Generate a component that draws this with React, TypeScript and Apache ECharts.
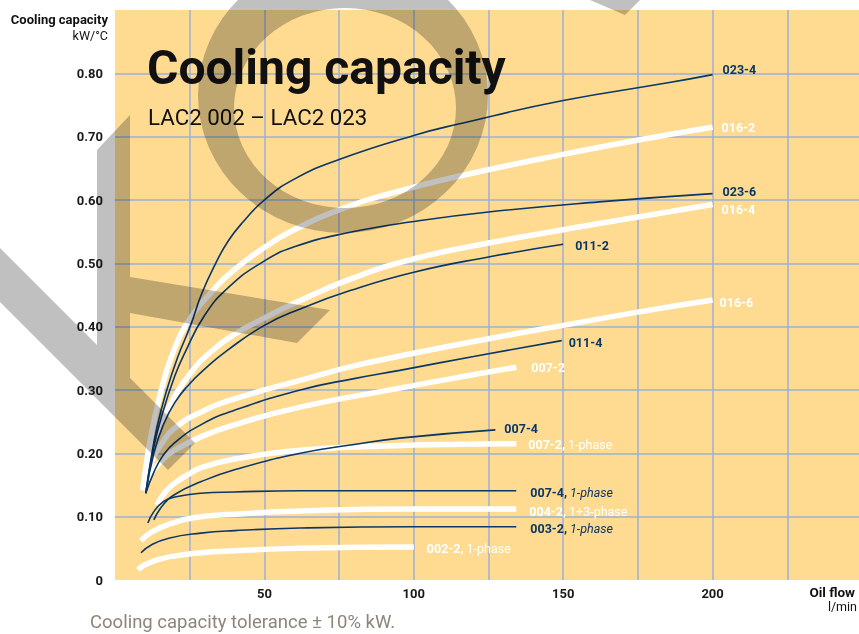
import React, { useEffect, useRef } from 'react';
import * as echarts from 'echarts';

// ---------- data (oil flow l/min, cooling capacity kW/°C) ----------
const xLabelValues = [50, 100, 150, 200];

const n023_4: [number, number][] = [[10.3,0.137],[12,0.19],[14,0.24],[17,0.295],[21,0.352],[25.3,0.402],[29,0.452],[33.7,0.5],[38,0.536],[43,0.566],[50,0.6],[60,0.633],[75,0.664],[100,0.702],[115,0.72],[150,0.757],[185,0.785],[200,0.798]];
const w016_2: [number, number][] = [[9.3,0.142],[11,0.2],[13,0.25],[15.5,0.3],[18.7,0.35],[24,0.405],[32,0.453],[40,0.49],[50,0.525],[58.7,0.55],[77,0.588],[95,0.614],[113.5,0.636],[150,0.672],[185,0.703],[200,0.715]];
const n023_6: [number, number][] = [[10.3,0.137],[13,0.21],[16,0.265],[20,0.322],[23,0.355],[30,0.418],[38,0.462],[48.7,0.5],[60,0.526],[78.7,0.549],[100,0.566],[125,0.581],[162,0.597],[200,0.61]];
const w016_4: [number, number][] = [[9.3,0.142],[12,0.2],[16,0.252],[20,0.29],[25,0.325],[32,0.36],[40,0.388],[49.7,0.413],[60,0.437],[78.7,0.475],[100,0.507],[125,0.532],[150,0.553],[162,0.563],[200,0.593]];
const n011_2: [number, number][] = [[10.3,0.137],[13,0.2],[16,0.243],[20,0.28],[25,0.31],[30,0.333],[37.7,0.363],[50,0.402],[62,0.428],[78.7,0.457],[100,0.486],[125,0.51],[150,0.53]];
const w016_6: [number, number][] = [[9.3,0.142],[12,0.185],[16,0.218],[20,0.24],[28.7,0.265],[40,0.286],[61,0.314],[80,0.338],[100,0.358],[125,0.381],[150,0.402],[175,0.423],[200,0.442]];
const n011_4: [number, number][] = [[10.3,0.137],[13,0.17],[16,0.196],[20,0.217],[28.7,0.245],[40,0.268],[62,0.3],[80,0.318],[95.3,0.331],[120,0.353],[149.5,0.378]];
const w007_2: [number, number][] = [[9.3,0.142],[12,0.168],[16,0.19],[20,0.205],[28.7,0.226],[40,0.245],[62,0.273],[95.3,0.303],[115,0.32],[134.3,0.336]];
const n007_4: [number, number][] = [[13,0.095],[16,0.118],[20,0.135],[28.7,0.155],[40,0.174],[62,0.2],[80,0.214],[95.3,0.224],[127.3,0.237]];
const w007_2_1ph: [number, number][] = [[14,0.118],[17,0.14],[20,0.153],[25,0.168],[28.7,0.177],[40,0.191],[62,0.205],[80,0.21],[100,0.213],[134.3,0.215]];
const n007_4_1ph: [number, number][] = [[11,0.09],[13,0.108],[16.3,0.124],[20,0.131],[28.7,0.137],[40,0.139],[62,0.141],[100,0.141],[134.3,0.141]];
const w004_2: [number, number][] = [[8.7,0.062],[12,0.075],[18,0.088],[28.7,0.1],[40,0.104],[62,0.109],[100,0.112],[134.3,0.112]];
const n003_2: [number, number][] = [[8.7,0.043],[12,0.055],[18,0.066],[28.7,0.074],[40,0.078],[62,0.082],[100,0.084],[134.3,0.084]];
const w002_2: [number, number][] = [[7.7,0.016],[10,0.024],[15,0.033],[20,0.038],[28.7,0.043],[40,0.046],[62,0.05],[100,0.052]];

// ---------- styling ----------
const NAVY = '#0a3767';
const WHITE = '#ffffff';
const FONT = 'Roboto, "Noto Sans", sans-serif';
const WM_FILL = '#c0c0c1';

const WM_PATH =
  'M198 95 A145 138 0 1 0 488 95 A145 138 0 1 0 198 95 Z ' +
  'M234 108 A111 100 0 1 1 456 108 A111 100 0 1 1 234 108 Z ' +
  'M97 150 L130 115 L130 277 L330 310 L297 343 L130 313 L130 378 L195 443 L168 470 L0 302 L0 248 L97 345 Z ' +
  'M590 0 L640 0 L625 15 Z';

let registered = false;
function ensureShape() {
  if (registered) return;
  echarts.graphic.registerShape('wmark', (echarts.graphic as any).extendPath(WM_PATH, {}));
  registered = true;
}

function mkSeries(
  name: string,
  data: [number, number][],
  navy: boolean,
  main: string,
  sub: string,
  dist: number,
  dy: number
) {
  const color = navy ? NAVY : WHITE;
  const fmt = sub ? `{b|${main},} {s|${sub}}` : `{b|${main}}`;
  return {
    type: 'line',
    name,
    data,
    symbol: 'none',
    showSymbol: false,
    smooth: 0.5,
    silent: true,
    z: navy ? 4 : 3,
    lineStyle: { color, width: navy ? 1.6 : 5.5, cap: 'butt' },
    endLabel: {
      show: true,
      distance: dist,
      offset: [0, dy],
      formatter: () => fmt,
      color,
      fontFamily: FONT,
      fontSize: 12.5,
      rich: {
        b: { color, fontFamily: FONT, fontSize: 12.5, fontWeight: 'bold' },
        s: {
          color,
          fontFamily: FONT,
          fontSize: 12.5,
          fontWeight: 'normal',
          fontStyle: navy ? 'italic' : 'normal',
        },
      },
    },
  };
}

export default function App() {
  const ref = useRef<HTMLDivElement>(null);
  useEffect(() => {
    if (!ref.current) return;
    ensureShape();
    const chart = echarts.init(ref.current, undefined, { renderer: 'svg' });
    const series = [
      mkSeries('016-2', w016_2, false, '016-2', '', 9, 0),
      mkSeries('016-4', w016_4, false, '016-4', '', 9, 5),
      mkSeries('016-6', w016_6, false, '016-6', '', 7, 2),
      mkSeries('007-2', w007_2, false, '007-2', '', 15, 0),
      mkSeries('007-2 1ph', w007_2_1ph, false, '007-2', '1-phase', 12, 1),
      mkSeries('004-2', w004_2, false, '004-2', '1+3-phase', 13, 2),
      mkSeries('002-2', w002_2, false, '002-2', '1-phase', 13, 1),
      mkSeries('023-4', n023_4, true, '023-4', '', 10, -5),
      mkSeries('023-6', n023_6, true, '023-6', '', 10, -2),
      mkSeries('011-2', n011_2, true, '011-2', '', 12, 1),
      mkSeries('011-4', n011_4, true, '011-4', '', 7, 2),
      mkSeries('007-4', n007_4, true, '007-4', '', 9, -1),
      mkSeries('007-4 1ph', n007_4_1ph, true, '007-4', '1-phase', 14, 2),
      mkSeries('003-2', n003_2, true, '003-2', '1-phase', 14, 2),
    ];
    const txt = (x: number, y: number, text: string, size: number, weight: string, fill: string, align = 'left') => ({
      type: 'text',
      x,
      y,
      silent: true,
      z: 50,
      style: {
        text,
        fontFamily: FONT,
        fontSize: size,
        fontWeight: weight,
        fill,
        textAlign: align,
        textVerticalAlign: 'middle',
      },
    });
    chart.setOption({
      animation: false,
      backgroundColor: '#ffffff',
      grid: {
        left: 115,
        right: 0,
        top: 10,
        bottom: 54,
        show: true,
        backgroundColor: '#fedb91',
        borderWidth: 0,
        containLabel: false,
      },
      xAxis: {
        type: 'value',
        min: 0,
        max: 249,
        interval: 25,
        axisLine: { show: false },
        axisTick: { show: false },
        splitLine: {
          show: true,
          showMinLine: false,
          showMaxLine: false,
          lineStyle: { color: '#9bb0d6', width: 1.5 },
        },
        axisLabel: {
          show: true,
          margin: 7,
          showMaxLabel: false,
          fontFamily: FONT,
          fontSize: 13,
          fontWeight: 'bold',
          color: '#1a1a1a',
          formatter: (v: number) => (xLabelValues.indexOf(v) >= 0 ? String(v) : ''),
        },
      },
      yAxis: {
        type: 'value',
        min: 0,
        max: 0.9,
        interval: 0.1,
        axisLine: { show: false },
        axisTick: { show: false },
        splitLine: {
          show: true,
          showMinLine: false,
          showMaxLine: false,
          lineStyle: { color: '#9bb0d6', width: 1.5 },
        },
        axisLabel: {
          show: true,
          margin: 12,
          fontFamily: FONT,
          fontSize: 13,
          fontWeight: 'bold',
          color: '#1a1a1a',
          formatter: (v: number) => (Math.abs(v) < 1e-9 ? '0' : v > 0.85 ? '' : v.toFixed(2)),
        },
      },
      series,
      graphic: [
        txt(147, 67, 'Cooling capacity', 48, 'bold', '#111111'),
        txt(148, 117, 'LAC2 002 – LAC2 023', 22.3, 'normal', '#111111'),
        txt(108, 19, 'Cooling capacity', 13, 'bold', '#111111', 'right'),
        txt(108, 35, 'kW/°C', 12.5, 'normal', '#111111', 'right'),
        txt(855, 592, 'Oil flow', 13.5, 'bold', '#111111', 'right'),
        txt(857, 606, 'l/min', 12.5, 'normal', '#111111', 'right'),
        txt(90, 622, 'Cooling capacity tolerance ± 10% kW.', 18.5, 'normal', '#8d857a'),
        {
          type: 'wmark',
          x: 0,
          y: 0,
          z: 100,
          silent: true,
          style: { fill: WM_FILL, blend: 'multiply' },
        },
      ],
    });
    return () => chart.dispose();
  }, []);
  return (
    <>
      <style>{`[fill="${WM_FILL}"], [fill="rgb(192,192,193)"] { mix-blend-mode: multiply; }`}</style>
      <div
        ref={ref}
        style={{ position: 'absolute', left: 0, top: 0, width: 859, height: 634, background: '#fff' }}
      />
    </>
  );
}
